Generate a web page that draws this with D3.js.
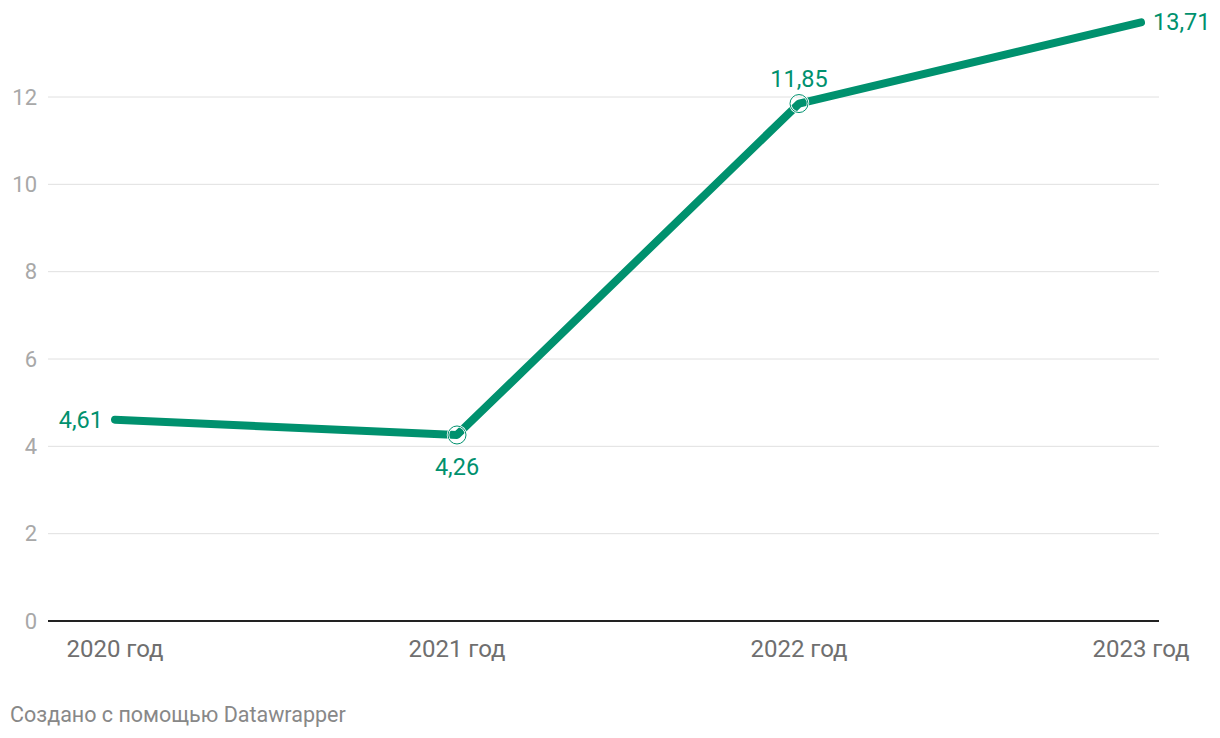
<!DOCTYPE html>
<html><head><meta charset="utf-8">
<script src="https://cdn.jsdelivr.net/npm/d3@7"></script>
<style>
body{margin:0;background:#fff;font-family:Roboto,"Noto Sans",sans-serif;}
</style></head><body>
<svg id="c" width="1220" height="738"></svg>
<script>
const categories = ["2020 год","2021 год","2022 год","2023 год"];
const values = [4.61, 4.26, 11.85, 13.71];
const valueLabels = ["4,61","4,26","11,85","13,71"];
const yTicks = [0,2,4,6,8,10,12];

const svg = d3.select("#c");
const color = "#00916e";
const x = d3.scalePoint().domain(categories).range([115,1141]);
const y = d3.scaleLinear().domain([0,12]).range([621,97]);
const gx0 = 48, gx1 = 1159;

// gridlines
svg.append("g").selectAll("line").data(yTicks.filter(d=>d>0)).join("line")
  .attr("x1",gx0).attr("x2",gx1).attr("y1",d=>y(d)).attr("y2",d=>y(d))
  .attr("stroke","#e0e0e0").attr("stroke-width",1);
svg.append("g").selectAll("text").data(yTicks).join("text")
  .attr("x",37).attr("y",d=>y(d)).attr("dy","0.35em").attr("text-anchor","end")
  .attr("fill","#a8a8a8").attr("font-size",22).text(d=>d);
// baseline
svg.append("line").attr("x1",gx0).attr("x2",gx1).attr("y1",y(0)).attr("y2",y(0))
  .attr("stroke","#222").attr("stroke-width",2);
// x labels
svg.append("g").selectAll("text").data(categories).join("text")
  .attr("x",d=>x(d)).attr("y",657).attr("text-anchor","middle")
  .attr("fill","#6f6f6f").attr("font-size",24).text(d=>d);

// line
const data = categories.map((c,i)=>({c, v:values[i], l:valueLabels[i]}));
svg.append("path").datum(data)
  .attr("d", d3.line().x(d=>x(d.c)).y(d=>y(d.v)))
  .attr("fill","none").attr("stroke",color).attr("stroke-width",8)
  .attr("stroke-linecap","round").attr("stroke-linejoin","round");
// circles on middle points
svg.append("g").selectAll("circle").data(data.slice(1,3)).join("circle")
  .attr("cx",d=>x(d.c)).attr("cy",d=>y(d.v)).attr("r",9)
  .attr("fill","none").attr("stroke","#ffffff").attr("stroke-width",2.5);
svg.append("g").selectAll("circle").data(data.slice(1,3)).join("circle")
  .attr("cx",d=>x(d.c)).attr("cy",d=>y(d.v)).attr("r",9)
  .attr("fill","none").attr("stroke",color).attr("stroke-width",1);

// value labels
const lab = svg.append("g").attr("fill",color).attr("font-size",23.5);
lab.append("text").attr("x",x(categories[0])-12).attr("y",y(values[0])).attr("dy","0.35em")
  .attr("text-anchor","end").text(valueLabels[0]);
lab.append("text").attr("x",x(categories[1])).attr("y",y(values[1])+32).attr("dy","0.35em")
  .attr("text-anchor","middle").text(valueLabels[1]);
lab.append("text").attr("x",x(categories[2])).attr("y",y(values[2])-25).attr("dy","0.35em")
  .attr("text-anchor","middle").text(valueLabels[2]);
lab.append("text").attr("x",x(categories[3])+12).attr("y",y(values[3])-1).attr("dy","0.35em")
  .attr("text-anchor","start").text(valueLabels[3]);

svg.append("text").attr("x",10).attr("y",722).attr("fill","#888")
  .attr("font-size",21.5).text("Создано с помощью Datawrapper");
</script></body></html>
